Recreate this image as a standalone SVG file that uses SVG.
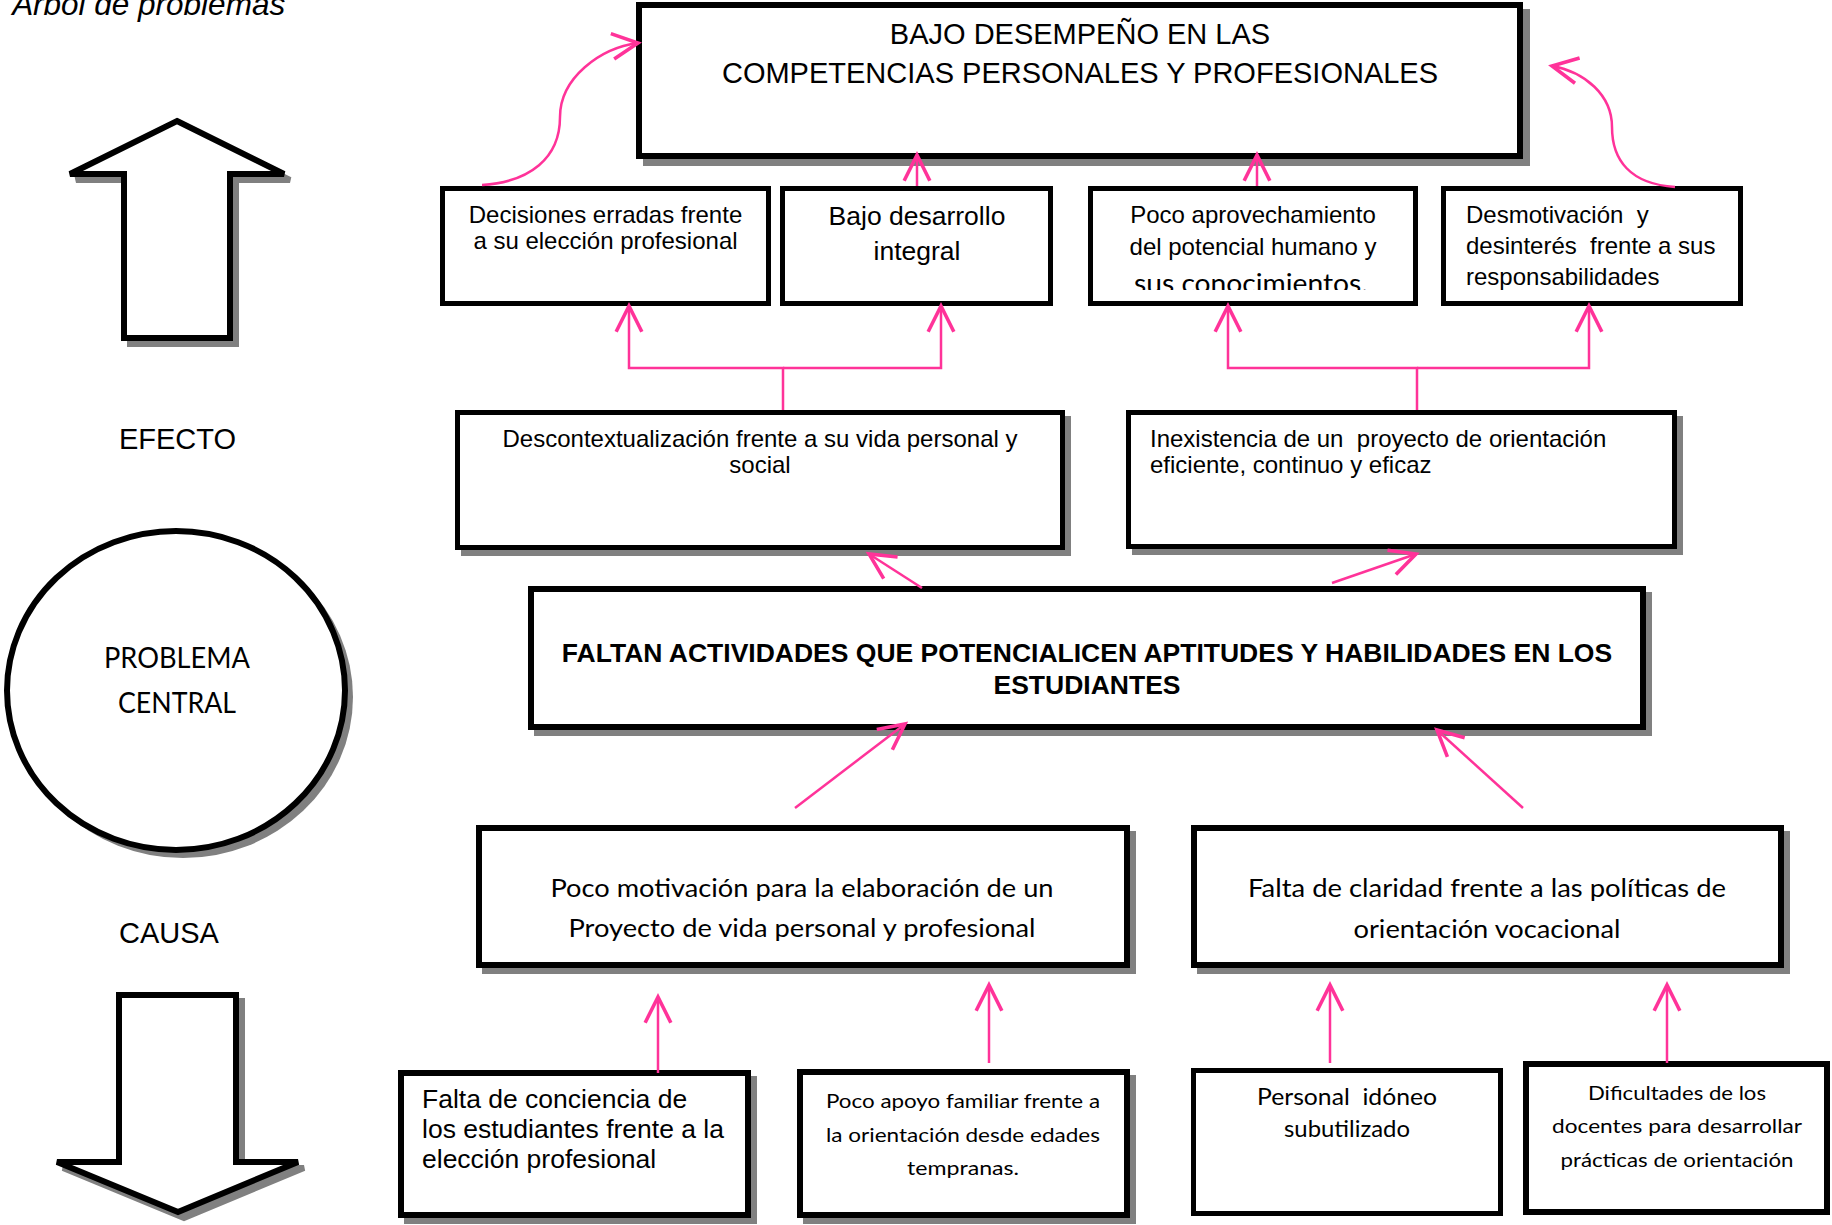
<svg xmlns="http://www.w3.org/2000/svg" width="1832" height="1225" viewBox="0 0 1832 1225">
<style>
.bx{fill:#fff;stroke:#000;stroke-width:5}
.b6{stroke-width:6}
.sh{fill:#808080}
.pk{fill:none;stroke:#FF3399;stroke-width:2.5;marker-end:url(#ah)}
.a{font-family:"Liberation Sans",Arial,sans-serif;fill:#000}
.c{font-family:Lato,"Liberation Sans",sans-serif;fill:#000}
.m{text-anchor:middle}
</style>
<defs>
<marker id="ah" markerUnits="userSpaceOnUse" markerWidth="40" markerHeight="40" viewBox="-22 -14 26 28" refX="0" refY="0" orient="auto" overflow="visible">
<path d="M-18,-9 L0,0 L-18,9" fill="none" stroke="#FF3399" stroke-width="2.5"/>
</marker>
<clipPath id="clipPA"><rect x="1091" y="189" width="324" height="101"/></clipPath>
</defs>
<rect width="1832" height="1225" fill="#fff"/>

<text class="a" x="12" y="15" font-size="31.5" font-style="italic">Árbol de problemas</text>

<g id="arrow-up">
<path class="sh" stroke="#808080" stroke-width="6" stroke-linejoin="miter" d="M183,127 L290,180 L236,180 L236,344 L130,344 L130,180 L76,180 Z"/>
<path fill="#fff" stroke="#000" stroke-width="6" stroke-linejoin="miter" d="M177,121 L284,174 L230,174 L230,338 L124,338 L124,174 L70,174 Z"/>
</g>
<g id="label-efecto"><text class="a m" x="177.5" y="449" font-size="29">EFECTO</text></g>
<g id="problema-central">
<ellipse class="sh" cx="183" cy="697" rx="170" ry="161"/>
<ellipse fill="#fff" stroke="#000" stroke-width="6" cx="176" cy="690.5" rx="169" ry="159.5"/>
<text class="c m" x="177" y="668" font-size="28" textLength="146" lengthAdjust="spacingAndGlyphs">PROBLEMA</text>
<text class="c m" x="177" y="713" font-size="28" textLength="118" lengthAdjust="spacingAndGlyphs">CENTRAL</text>
</g>
<g id="label-causa"><text class="a m" x="169" y="943" font-size="29">CAUSA</text></g>
<g id="arrow-down">
<path class="sh" stroke="#808080" stroke-width="6" d="M125,1001 L242,1001 L242,1168 L304,1168 L184,1218 L63,1168 L125,1168 Z"/>
<path fill="#fff" stroke="#000" stroke-width="6" d="M119,995 L236,995 L236,1162 L298,1162 L178,1212 L57,1162 L119,1162 Z"/>
</g>

<g id="efecto-principal">
<rect class="sh" x="643" y="9" width="887" height="157"/>
<rect class="bx b6" x="639" y="5" width="881" height="151"/>
<text class="a m" x="1080" y="44" font-size="29">BAJO DESEMPEÑO EN LAS</text>
<text class="a m" x="1080" y="83" font-size="29">COMPETENCIAS PERSONALES Y PROFESIONALES</text>
</g>

<g id="efecto-decisiones">
<rect class="bx" x="442.5" y="188.5" width="326" height="115"/>
<text class="a m" x="605.5" y="223" font-size="24">Decisiones erradas frente</text>
<text class="a m" x="605.5" y="249" font-size="24">a su elección profesional</text>
</g>
<g id="efecto-bajo">
<rect class="bx" x="782.5" y="188.5" width="268" height="115"/>
<text class="a m" x="917" y="225" font-size="26.5">Bajo desarrollo</text>
<text class="a m" x="917" y="260" font-size="26.5">integral</text>
</g>
<g id="efecto-poco">
<rect class="bx" x="1090.5" y="188.5" width="325" height="115"/>
<g clip-path="url(#clipPA)">
<text class="a m" x="1253" y="223" font-size="24">Poco aprovechamiento</text>
<text class="a m" x="1253" y="255" font-size="24">del potencial humano y</text>
<text class="c m" x="1251" y="293" font-size="26" textLength="234" lengthAdjust="spacingAndGlyphs">sus conocimientos.</text>
</g>
</g>
<g id="efecto-desmotivacion">
<rect class="bx" x="1443.5" y="188.5" width="297" height="115"/>
<text class="a" x="1466" y="223" font-size="24" xml:space="preserve">Desmotivación  y</text>
<text class="a" x="1466" y="254" font-size="24" xml:space="preserve">desinterés  frente a sus</text>
<text class="a" x="1466" y="285" font-size="24">responsabilidades</text>
</g>

<g id="efecto-descontextualizacion">
<rect class="sh" x="461" y="416" width="610" height="140"/>
<rect class="bx" x="457.5" y="412.5" width="605" height="135"/>
<text class="a m" x="760" y="447" font-size="24">Descontextualización frente a su vida personal y</text>
<text class="a m" x="760" y="473" font-size="24">social</text>
</g>
<g id="efecto-inexistencia">
<rect class="sh" x="1132" y="416" width="551" height="139"/>
<rect class="bx" x="1128.5" y="412.5" width="546" height="134"/>
<text class="a" x="1150" y="447" font-size="24" xml:space="preserve">Inexistencia de un  proyecto de orientación</text>
<text class="a" x="1150" y="473" font-size="24">eficiente, continuo y eficaz</text>
</g>

<g id="problema">
<rect class="sh" x="534" y="592" width="1118" height="144"/>
<rect class="bx b6" x="531" y="589" width="1112" height="138"/>
<text class="a m" x="1087" y="662" font-size="26.5" font-weight="bold">FALTAN ACTIVIDADES QUE POTENCIALICEN APTITUDES Y HABILIDADES EN LOS</text>
<text class="a m" x="1087" y="694" font-size="26.5" font-weight="bold">ESTUDIANTES</text>
</g>

<g id="causa-motivacion">
<rect class="sh" x="482" y="831" width="654" height="143"/>
<rect class="bx b6" x="479" y="828" width="648" height="137"/>
<text class="c m" x="802" y="897" font-size="25" textLength="503" lengthAdjust="spacingAndGlyphs">Poco motivación para la elaboración de un</text>
<text class="c m" x="802" y="937" font-size="25" textLength="467" lengthAdjust="spacingAndGlyphs">Proyecto de vida personal y profesional</text>
</g>
<g id="causa-claridad">
<rect class="sh" x="1197" y="831" width="593" height="143"/>
<rect class="bx b6" x="1194" y="828" width="587" height="137"/>
<text class="c m" x="1487" y="897" font-size="25" textLength="478" lengthAdjust="spacingAndGlyphs">Falta de claridad frente a las políticas de</text>
<text class="c m" x="1487" y="938" font-size="25" textLength="267" lengthAdjust="spacingAndGlyphs">orientación vocacional</text>
</g>

<g id="causa-conciencia">
<rect class="sh" x="404" y="1076" width="353" height="148"/>
<rect class="bx b6" x="401" y="1073" width="347" height="142"/>
<text class="a" x="422" y="1108" font-size="26.5">Falta de conciencia de</text>
<text class="a" x="422" y="1138" font-size="26.5">los estudiantes frente a la</text>
<text class="a" x="422" y="1168" font-size="26.5">elección profesional</text>
</g>
<g id="causa-apoyo">
<rect class="sh" x="803" y="1075" width="333" height="149"/>
<rect class="bx b6" x="800" y="1072" width="327" height="143"/>
<text class="c m" x="963" y="1108" font-size="20" textLength="274" lengthAdjust="spacingAndGlyphs">Poco apoyo familiar frente a</text>
<text class="c m" x="963" y="1142" font-size="20" textLength="274" lengthAdjust="spacingAndGlyphs">la orientación desde edades</text>
<text class="c m" x="963" y="1175" font-size="20" textLength="112" lengthAdjust="spacingAndGlyphs">tempranas.</text>
</g>
<g id="causa-personal">
<rect class="bx" x="1193.5" y="1070.5" width="307" height="143"/>
<text class="c m" x="1347" y="1105" font-size="23" textLength="180" lengthAdjust="spacingAndGlyphs" xml:space="preserve">Personal  idóneo</text>
<text class="c m" x="1347" y="1137" font-size="23" textLength="126" lengthAdjust="spacingAndGlyphs">subutilizado</text>
</g>
<g id="causa-dificultades">
<rect class="bx b6" x="1526" y="1064" width="301" height="148"/>
<text class="c m" x="1677" y="1100" font-size="20" textLength="178" lengthAdjust="spacingAndGlyphs">Dificultades de los</text>
<text class="c m" x="1677" y="1133" font-size="20" textLength="250" lengthAdjust="spacingAndGlyphs">docentes para desarrollar</text>
<text class="c m" x="1677" y="1167" font-size="20" textLength="233" lengthAdjust="spacingAndGlyphs">prácticas de orientación</text>
</g>

<g id="connectors">
<path class="pk" d="M482,185 C530,182 560,158 560,117 C560,78 600,48 638,43"/>
<path class="pk" d="M1675,187 C1630,184 1612,160 1612,127 C1612,95 1585,72 1552,66"/>
<path class="pk" d="M917,186 V155"/>
<path class="pk" d="M1257,186 V155"/>
<path class="pk" d="M783,410 V368 H629 V306"/>
<path class="pk" d="M783,368 H941 V306"/>
<path class="pk" d="M1417,410 V368 H1228 V306"/>
<path class="pk" d="M1417,368 H1589 V306"/>
<path class="pk" d="M922,588 L869,554"/>
<path class="pk" d="M1332,583 L1416,554"/>
<path class="pk" d="M795,808 L905,724"/>
<path class="pk" d="M1523,808 L1437,730"/>
<path class="pk" d="M658,1073 V997"/>
<path class="pk" d="M989,1063 V985"/>
<path class="pk" d="M1330,1063 V985"/>
<path class="pk" d="M1667,1063 V985"/>
</g>
</svg>
